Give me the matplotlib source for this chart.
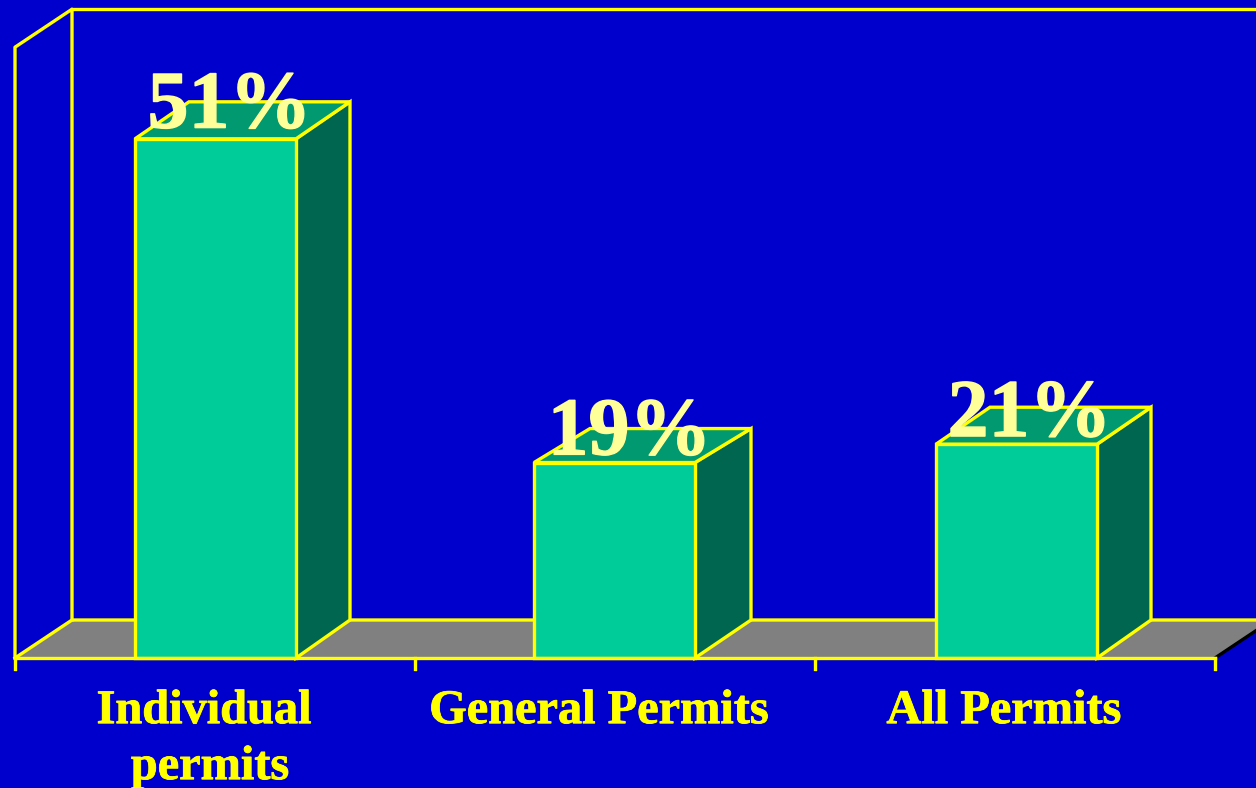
import matplotlib
matplotlib.use('Agg')
import matplotlib.pyplot as plt
import matplotlib.patheffects as pe
from matplotlib.patches import Polygon

# values
categories = ['Individual\npermits', 'General Permits', 'All Permits']
values = [51, 19.2, 21]
value_labels = ['51%', '19%', '21%']

bg_color = '#0000CC'
front_color = '#00CC99'
top_color = '#009970'
side_color = '#006650'
floor_color = '#808080'
line_color = '#FFFF00'
label_color = '#FFFF99'

plt.rcParams['font.family'] = ['Liberation Serif', 'DejaVu Serif']

fig = plt.figure(figsize=(12.56, 7.88), dpi=100, facecolor=bg_color)
ax = fig.add_axes([0, 0, 1, 1])
ax.set_facecolor(bg_color)

# one category is 400 px wide, 60% is 611 px high
ax.set_xlim(-15 / 400, 1241 / 400)
ax.set_ylim(-130 / 10.18, 658 / 10.18)
ax.axis('off')

lw = 2.4
ymax = 60
n = len(categories)
dx = 57 / 400   # depth of the fake 3d
dy = 38 / 10.18
bar_width = 0.4025
bar_dx = [54 / 400, 56 / 400, 54 / 400]
top_dy = [37 / 10.18, 34 / 10.18, 37 / 10.18]   # the middle bar has a flatter top
bar_left = [0.3, 1.2975, 2.3025]
label_x = [0.4725, 1.46, 2.4725]
value_pad = [1.1, 0.8, 0.8]


def poly(points, face, edge=line_color, z=2):
    ax.add_patch(Polygon(points, closed=True, facecolor=face, edgecolor=edge,
                         linewidth=lw, joinstyle='miter', zorder=z))


# floor
poly([(0, 0), (n, 0), (n + dx, dy), (dx, dy)], floor_color, edge='none', z=1)
ax.plot([0, dx, n + dx], [0, dy, dy], color=line_color, lw=lw, zorder=1.5)
ax.plot([n, n + dx], [0, dy], color='black', lw=lw, zorder=1.5)

# walls
ax.plot([0, 0, dx, dx], [0, ymax, ymax + dy, dy], color=line_color, lw=lw, zorder=1.5)
ax.plot([dx, n + dx], [ymax + dy, ymax + dy], color=line_color, lw=lw, zorder=1.5)

# bars
for i, v in enumerate(values):
    left = bar_left[i]
    right = left + bar_width
    back = right + bar_dx[i]
    poly([(right, 0), (back, dy), (back, v + top_dy[i]), (right, v)], side_color)
    poly([(left, v), (right, v), (back, v + top_dy[i]), (left + bar_dx[i], v + top_dy[i])], top_color)
    ax.bar(left, v, width=bar_width, align='edge', facecolor=front_color,
           edgecolor=line_color, linewidth=lw, zorder=3)
    ax.text(i + 0.5365, v + value_pad[i], value_labels[i], color=label_color, fontsize=59,
            fontweight='bold', ha='center', va='baseline', zorder=5,
            path_effects=[pe.withStroke(linewidth=1.0, foreground=label_color)])

# axis line and ticks
ax.plot([0, n], [0, 0], color=line_color, lw=lw, zorder=4)
for i in range(n + 1):
    ax.plot([i, i], [0, -1.1], color=line_color, lw=lw, zorder=4)

# category labels
stroke = [pe.withStroke(linewidth=0.6, foreground=line_color)]
for i, name in enumerate(categories):
    parts = name.split('\n')
    ax.text(label_x[i], -6.4, parts[0], color=line_color, fontsize=34.8,
            fontweight='bold', ha='center', va='baseline', path_effects=stroke)
    if len(parts) > 1:
        ax.text(label_x[i] + 0.015, -11.9, parts[1], color=line_color, fontsize=34.8,
                fontweight='bold', ha='center', va='baseline', path_effects=stroke)

fig.savefig('out.png', dpi=100, facecolor=bg_color)
